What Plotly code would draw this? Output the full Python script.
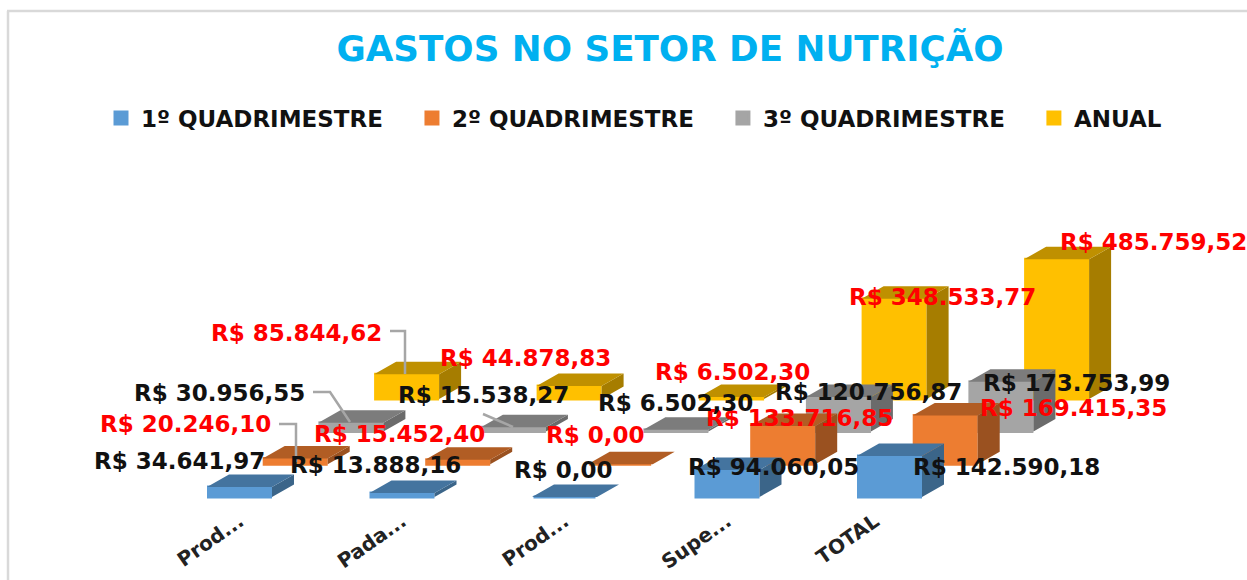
import plotly.graph_objects as go

CATEGORIES = ["Prod...", "Pada...", "Prod...", "Supe...", "TOTAL"]
TICK_POS = [0, 1, 2, 3, 3.91]
SERIES = ["1º QUADRIMESTRE", "2º QUADRIMESTRE", "3º QUADRIMESTRE", "ANUAL"]
LEGEND_PAD = [3, 3, 3, 0]
Q1 = [34641.97, 13888.16, 0.00, 94060.05, 142590.18]
Q2 = [20246.10, 15452.40, 0.00, 133716.85, 169415.35]
Q3 = [30956.55, 15538.27, 6502.30, 120756.87, 173753.99]
ANUAL = [85844.62, 44878.83, 6502.30, 348533.77, 485759.52]
VALUES = [Q1, Q2, Q3, ANUAL]

FRONT = ["#5B9BD5", "#ED7D31", "#A5A5A5", "#FFC000"]
TOP = ["#44749F", "#B15D24", "#7C7C7C", "#BF9000"]
SIDE = ["#3B6589", "#9A5120", "#6B6B6B", "#A67D00"]
LABEL_COLORS = ["#111111", "#FF0000", "#111111", "#FF0000"]

# label centres, as pixel offsets (right, up) from the top-centre of the bar's front face
LABEL_SHIFT = [
    [(-60, 26), (-27, 28), (-2, 27), (46, 3), (117, -11)],
    [(-110, 34), (-58, 26), (-25, 29), (17, 8), (128, 8)],
    [(-131, 30), (-30, 32), (0, 27), (30, 5), (76, -1)],
    [(-110, 41), (-44, 28), (1, 25), (48, 2), (97, 17)],
]

W, H = 1247, 580
BOTTOM_M = 75
PX_PER_CAT = 162.5
VAL_PER_PX = 3480.0
X0_PX, Y0_PX = 239.5, 497.0
BAR_W = 65 / PX_PER_CAT
STROKE = 3
DEPTH_X, DEPTH_Y = 22 / PX_PER_CAT, 12.5 * VAL_PER_PX
ROW_X, ROW_Y = 55.7 / PX_PER_CAT, 32.7 * VAL_PER_PX

x_range = [-X0_PX / PX_PER_CAT, (W - X0_PX) / PX_PER_CAT]
y_range = [-(H - BOTTOM_M - Y0_PX) * VAL_PER_PX, Y0_PX * VAL_PER_PX]


def px_x(px):
    return (px - X0_PX) / PX_PER_CAT


def px_y(px):
    return (Y0_PX - px) * VAL_PER_PX


fig = go.Figure()
annotations = []
for s, name in enumerate(SERIES):
    ax = "" if s == 3 else str(4 - s)
    xa, ya = "x" + ax, "y" + ax
    xs = [i + s * ROW_X for i in range(len(CATEGORIES))]
    base = s * ROW_Y
    fig.add_trace(go.Bar(
        x=xs, y=VALUES[s], base=[base] * len(xs), width=BAR_W - STROKE / PX_PER_CAT,
        name=name + "\u00a0" * LEGEND_PAD[s],
        marker=dict(color=FRONT[s], line=dict(width=STROKE, color=FRONT[s])), xaxis=xa, yaxis=ya,
    ))
    top_x, top_y, side_x, side_y = [], [], [], []
    for x, v in zip(xs, VALUES[s]):
        l, r, b, t = x - BAR_W / 2, x + BAR_W / 2, base, base + v
        top_x += [l, r, r + DEPTH_X, l + DEPTH_X, l, None]
        top_y += [t, t, t + DEPTH_Y, t + DEPTH_Y, t, None]
        side_x += [r, r + DEPTH_X, r + DEPTH_X, r, r, None]
        side_y += [b, b + DEPTH_Y, t + DEPTH_Y, t, b, None]
    for fx, fy, col in ((side_x, side_y, SIDE[s]), (top_x, top_y, TOP[s])):
        fig.add_trace(go.Scatter(
            x=fx, y=fy, fill="toself", fillcolor=col, mode="lines",
            line=dict(width=0, color=col), showlegend=False, hoverinfo="skip",
            xaxis=xa, yaxis=ya,
        ))
    for i, (x, v) in enumerate(zip(xs, VALUES[s])):
        txt = "R$ " + f"{v:,.2f}".replace(",", "_").replace(".", ",").replace("_", ".")
        dx, dy = LABEL_SHIFT[s][i]
        annotations.append(dict(
            x=x, y=base + v, xref="x4", yref="y4", text=txt, showarrow=False,
            xshift=dx, yshift=dy,
            font=dict(family="DejaVu Sans", size=23, color=LABEL_COLORS[s], weight="bold"),
        ))

# leader lines
LEADERS = [
    [(390, 331), (405, 331), (405, 374)],
    [(313, 392), (330, 392), (350, 422)],
    [(279, 424), (296, 424), (296, 462)],
    [(483, 414), (513, 427)],
]
for pts in LEADERS:
    fig.add_trace(go.Scatter(
        x=[px_x(p[0]) for p in pts], y=[px_y(p[1]) for p in pts], mode="lines",
        line=dict(color="#A6A6A6", width=2.5), showlegend=False, hoverinfo="skip",
        xaxis="x4", yaxis="y4",
    ))

axis_common = dict(showgrid=False, zeroline=False, automargin=False)
layout = dict(
    width=W, height=H, barmode="overlay", margin=dict(l=0, r=0, t=0, b=BOTTOM_M),
    paper_bgcolor="white", plot_bgcolor="rgba(0,0,0,0)", annotations=annotations,
    title=dict(text="GASTOS NO SETOR DE NUTRIÇÃO", x=670 / W, xanchor="center", y=1 - 49 / H,
               yanchor="middle",
               font=dict(family="DejaVu Sans", size=35.7, color="#00B0F0", weight="bold")),
    legend=dict(orientation="h", x=101 / W, xanchor="left", y=1 - 118 / (H - BOTTOM_M), yanchor="middle",
                font=dict(family="DejaVu Sans", size=23, color="#111111", weight="bold"),
                itemwidth=30, traceorder="normal", bgcolor="rgba(0,0,0,0)"),
    xaxis=dict(range=x_range, tickvals=TICK_POS, ticktext=CATEGORIES,
               tickangle=-35, showline=False, ticks="",
               tickfont=dict(family="DejaVu Sans", size=20, color="#222222", weight="bold"), **axis_common),
    yaxis=dict(range=y_range, visible=False, **axis_common),
)
for n in ("2", "3", "4"):
    layout["xaxis" + n] = dict(range=x_range, overlaying="x", visible=False, **axis_common)
    layout["yaxis" + n] = dict(range=y_range, overlaying="y", visible=False, **axis_common)
fig.update_layout(**layout)

# chart frame
fig.add_shape(type="line", xref="paper", yref="paper", x0=8 / W, x1=8 / W, y0=-BOTTOM_M / (H - BOTTOM_M),
              y1=1 - 11 / (H - BOTTOM_M), line=dict(color="#D9D9D9", width=2.5))
fig.add_shape(type="line", xref="paper", yref="paper", x0=7 / W, x1=1, y0=1 - 11 / (H - BOTTOM_M),
              y1=1 - 11 / (H - BOTTOM_M), line=dict(color="#D9D9D9", width=2.5))

fig.write_html("out.html", config=dict(displayModeBar=False), post_script="document.body.style.margin='0';")
